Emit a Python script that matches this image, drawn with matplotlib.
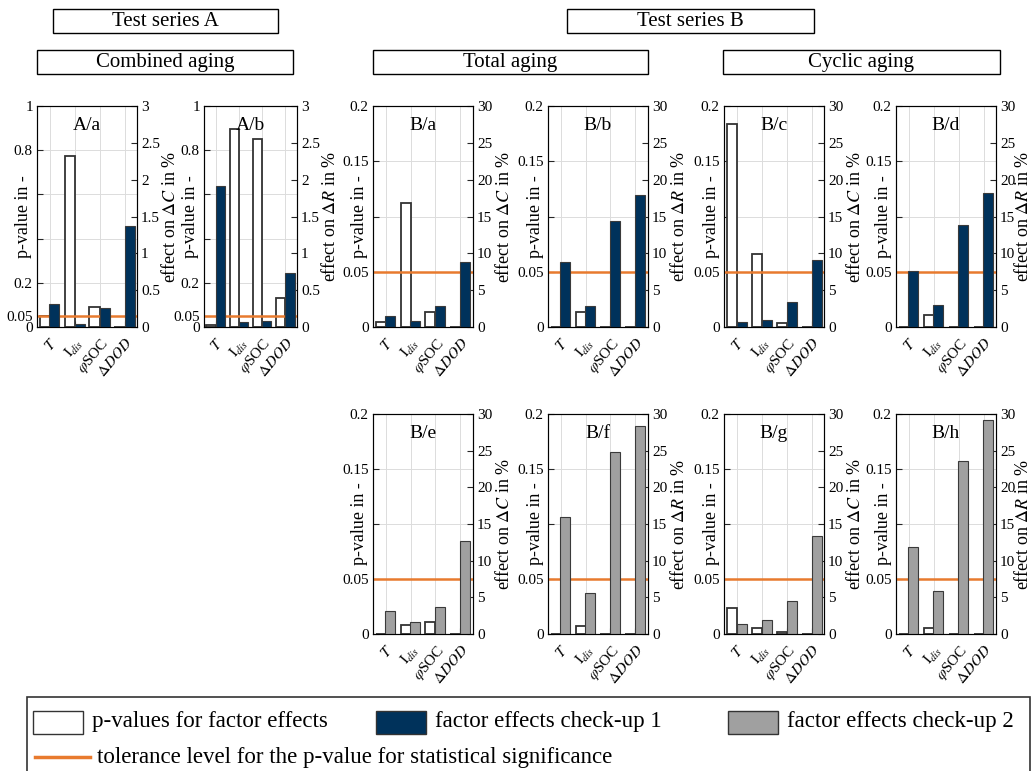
import numpy as np
import matplotlib
matplotlib.use("Agg")
import matplotlib.pyplot as plt
from matplotlib.patches import Rectangle
from matplotlib.lines import Line2D

plt.rcParams['font.family'] = ['Liberation Serif', 'DejaVu Serif']
plt.rcParams['mathtext.fontset'] = 'stix'

# factors (x categories)
factors = [r'$T$', r'$\mathrm{I}_{dis}$', r'$\varphi$SOC', r'$\Delta DOD$']

# p-values (left axis) and factor effects in % (right axis)
p_Aa = [0.05, 0.774, 0.09, 0.002]
eff_Aa = [0.31, 0.04, 0.26, 1.37]
p_Ab = [0.008, 0.896, 0.852, 0.131]
eff_Ab = [1.91, 0.07, 0.085, 0.73]

p_Ba = [0.0045, 0.112, 0.0139, 0.0]
eff_Ba = [1.54, 0.86, 2.85, 8.77]
p_Bb = [0.0, 0.0139, 0.0, 0.0]
eff_Bb = [8.77, 2.85, 14.4, 17.9]
p_Bc = [0.184, 0.0657, 0.0036, 0.0]
eff_Bc = [0.63, 0.99, 3.34, 9.13]
p_Bd = [0.0, 0.0105, 0.0, 0.0]
eff_Bd = [7.64, 2.98, 13.9, 18.2]

p_Be = [0.0, 0.0085, 0.0109, 0.0]
eff_Be = [3.13, 1.63, 3.72, 12.75]
p_Bf = [0.0, 0.0073, 0.0, 0.0]
eff_Bf = [16.0, 5.63, 24.8, 28.3]
p_Bg = [0.0233, 0.0051, 0.0021, 0.0]
eff_Bg = [1.36, 1.86, 4.54, 13.4]
p_Bh = [0.0, 0.0051, 0.0, 0.0]
eff_Bh = [11.85, 5.9, 23.6, 29.2]

p_tol = 0.05

NAVY = '#00325b'
GRAY = '#a0a0a0'
ORANGE = '#e87a2e'
AXC = '#262626'

W, H = 1035, 771
fig = plt.figure(figsize=(W / 100, H / 100), dpi=100)


def panel(x0, y0, w, h, title, p, eff, col, qty, series_a, lab_l, lab_r):
    ax = fig.add_axes([x0 / W, 1 - (y0 + h) / H, w / W, h / H])
    x = np.arange(1, len(factors) + 1)
    ax.bar(x - 0.2, p, width=0.4, color='white', edgecolor='#333333', linewidth=1.3, zorder=2)
    ax.axhline(p_tol, color=ORANGE, lw=1.8, zorder=3)
    ax.set_xlim(0.5, 4.5)
    if series_a:
        ax.set_ylim(0, 1)
        ax.set_yticks([0, 0.05, 0.2, 0.4, 0.6, 0.8, 1])
        ax.set_yticklabels(['0', '0.05', '0.2', '', '', '0.8', '1'])
    else:
        ax.set_ylim(0, 0.2)
        ax.set_yticks([0, 0.05, 0.1, 0.15, 0.2])
        ax.set_yticklabels(['0', '0.05', '', '0.15', '0.2'])
    ax.set_xticks(x)
    ax.set_xticklabels(factors, rotation=50, ha='right', va='top', rotation_mode='anchor', fontsize=13)
    ax.grid(True, color='#dcdcdc', lw=0.7)
    ax.set_axisbelow(True)
    ax.tick_params(direction='in', length=4, labelsize=11, colors=AXC, labelcolor='k', pad=3)
    ax.tick_params(axis='x', pad=6)
    for s in ax.spines.values():
        s.set_color(AXC)
    ax.set_ylabel('p-value in -', fontsize=13, va='center')
    ax.yaxis.set_label_coords(lab_l, 0.5)
    ax.text(0.5, 0.91, title, transform=ax.transAxes, ha='center', va='center', fontsize=14)

    ax2 = ax.twinx()
    ax2.bar(x + 0.2, eff, width=0.4, color=col, edgecolor='#3a3a3a', linewidth=0.8, zorder=2)
    if series_a:
        ax2.set_ylim(0, 3)
        ax2.set_yticks([0, 0.5, 1, 1.5, 2, 2.5, 3])
        ax2.set_yticklabels(['0', '0.5', '1', '1.5', '2', '2.5', '3'])
    else:
        ax2.set_ylim(0, 30)
        ax2.set_yticks([0, 5, 10, 15, 20, 25, 30])
    ax2.tick_params(direction='in', length=4, labelsize=11, colors=AXC, labelcolor='k', pad=3)
    ax2.set_ylabel(r'effect on $\Delta %s$ in %%' % qty, fontsize=13, va='center')
    ax2.yaxis.set_label_coords(lab_r, 0.5)
    return ax, ax2


# row 1
panel(37, 106, 100, 221, 'A/a', p_Aa, eff_Aa, NAVY, 'C', True, -0.13, 1.33)
panel(204, 106, 93, 221, 'A/b', p_Ab, eff_Ab, NAVY, 'R', True, -0.15, 1.36)
panel(373, 106, 100, 221, 'B/a', p_Ba, eff_Ba, NAVY, 'C', False, -0.13, 1.31)
panel(548, 106, 100, 221, 'B/b', p_Bb, eff_Bb, NAVY, 'R', False, -0.13, 1.31)
panel(724, 106, 100, 221, 'B/c', p_Bc, eff_Bc, NAVY, 'C', False, -0.13, 1.31)
panel(896, 106, 100, 221, 'B/d', p_Bd, eff_Bd, NAVY, 'R', False, -0.13, 1.27)
# row 2
panel(373, 414, 100, 220, 'B/e', p_Be, eff_Be, GRAY, 'C', False, -0.13, 1.31)
panel(548, 414, 100, 220, 'B/f', p_Bf, eff_Bf, GRAY, 'R', False, -0.13, 1.31)
panel(724, 414, 100, 220, 'B/g', p_Bg, eff_Bg, GRAY, 'C', False, -0.13, 1.31)
panel(896, 414, 100, 220, 'B/h', p_Bh, eff_Bh, GRAY, 'R', False, -0.13, 1.27)


def header(x0, y0, x1, y1, s):
    fig.add_artist(Rectangle((x0 / W, 1 - y1 / H), (x1 - x0) / W, (y1 - y0) / H,
                             transform=fig.transFigure, fill=False, ec='k', lw=1.0))
    fig.text((x0 + x1) / 2 / W, 1 - (y0 + y1) / 2 / H, s, ha='center', va='center', fontsize=15)


header(53, 9, 278, 33, 'Test series A')
header(567, 9, 814, 33, 'Test series B')
header(37, 50, 293, 74, 'Combined aging')
header(373, 50, 648, 74, 'Total aging')
header(723, 50, 1000, 74, 'Cyclic aging')

# legend (drawn by hand to get the MATLAB layout)
fig.add_artist(Rectangle((27 / W, -0.01), (1030 - 27) / W, 1 - 697 / H + 0.01,
                         transform=fig.transFigure, fill=False, ec='#333333', lw=1.2))
leg_items = [(33, 'white', 'p-values for factor effects'),
             (376, NAVY, 'factor effects check-up 1'),
             (728, GRAY, 'factor effects check-up 2')]
for lx, fc, txt in leg_items:
    fig.add_artist(Rectangle((lx / W, 1 - 734 / H), 50 / W, 23 / H, transform=fig.transFigure,
                             fc=fc, ec='#333333', lw=1.0))
    fig.text((lx + 59) / W, 1 - 722 / H, txt, ha='left', va='center', fontsize=16.5)
fig.add_artist(Line2D([35 / W, 90 / W], [1 - 757 / H, 1 - 757 / H], transform=fig.transFigure,
                      color=ORANGE, lw=2.5))
fig.text(97 / W, 1 - 757 / H, 'tolerance level for the p-value for statistical significance',
         ha='left', va='center', fontsize=16.5)

fig.savefig('out.png', dpi=100)
